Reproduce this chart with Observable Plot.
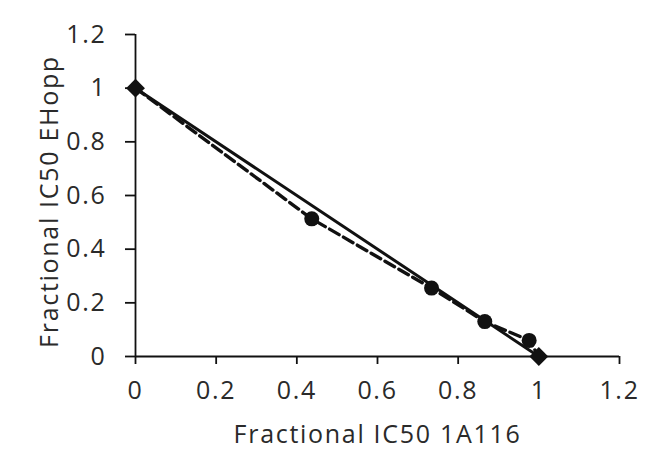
<!DOCTYPE html>
<html>
<head>
<meta charset="utf-8">
<script src="https://cdn.jsdelivr.net/npm/d3@7"></script>
<script src="https://cdn.jsdelivr.net/npm/@observablehq/plot@0.6"></script>
<style>
  html, body { margin: 0; padding: 0; background: white; }
</style>
</head>
<body>
<div id="chart"></div>
<script>
// Additive (theoretical) isobole line
const additiveX = [0, 1];
const additiveY = [1, 0];
// Observed combination points (dashed line)
const observedX = [0, 0.437, 0.734, 0.866, 0.976, 1];
const observedY = [1, 0.513, 0.255, 0.130, 0.060, 0];
// Ticks
const xTicks = [0, 0.2, 0.4, 0.6, 0.8, 1, 1.2];
const yTicks = [0, 0.2, 0.4, 0.6, 0.8, 1, 1.2];
const xLabel = "Fractional IC50 1A116";
const yLabel = "Fractional IC50 EHopp";

const additive = additiveX.map((x, i) => ({x, y: additiveY[i]}));
const observed = observedX.map((x, i) => ({x, y: observedY[i]}));
const innerPoints = observed.slice(1, -1);
const fmt = d => String(+d.toFixed(1));
const ink = "#111";

const chart = Plot.plot({
  width: 667,
  height: 451,
  marginLeft: 135,
  marginRight: 48,
  marginTop: 34,
  marginBottom: 95,
  style: "font-family: 'Open Sans'; font-size: 25px; letter-spacing: 1.7px; color: #2a2a2a; background: white;",
  x: {domain: [0, 1.2]},
  y: {domain: [0, 1.2]},
  marks: [
    Plot.axisX({ticks: xTicks, tickSize: 8, tickPadding: 17, tickFormat: fmt, strokeWidth: 1.8, stroke: ink, label: null}),
    Plot.axisY({ticks: yTicks, tickSize: 10, tickPadding: 19, tickFormat: fmt, strokeWidth: 1.8, stroke: ink, label: null}),
    Plot.ruleY([0], {stroke: ink, strokeWidth: 1.8}),
    Plot.ruleX([0], {stroke: ink, strokeWidth: 1.8}),
    Plot.line(additive, {x: "x", y: "y", stroke: ink, strokeWidth: 3}),
    Plot.line(observed, {x: "x", y: "y", stroke: ink, strokeWidth: 3.4, strokeDasharray: "11,5"}),
    Plot.dot(innerPoints, {x: "x", y: "y", r: 7.5, fill: ink}),
    Plot.dot(additive, {x: "x", y: "y", r: 8.5, fill: ink, symbol: "diamond2"}),
    Plot.text([xLabel], {frameAnchor: "bottom", textAnchor: "middle", dy: 86, text: d => d, fill: "#2a2a2a"}),
    Plot.text([yLabel], {frameAnchor: "left", textAnchor: "middle", rotate: -90, dx: -86, dy: 6, text: d => d, fill: "#2a2a2a"})
  ]
});
document.getElementById("chart").appendChild(chart);
</script>
</body>
</html>
